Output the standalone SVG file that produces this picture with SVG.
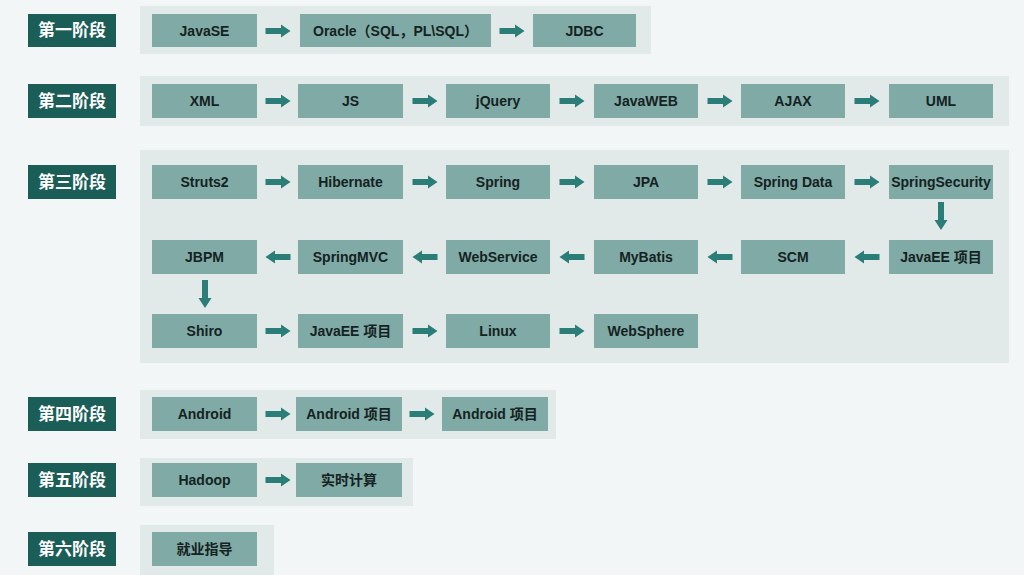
<svg xmlns="http://www.w3.org/2000/svg" xmlns:xlink="http://www.w3.org/1999/xlink" width="1024" height="575" viewBox="0 0 1024 575">
<style>
.bg{fill:#f3f6f6}
.panel{fill:#e2eae9}
.stage rect{fill:#1b5d57}
.stage text{fill:#ffffff;font-family:"Liberation Sans","Noto Sans CJK SC",sans-serif;font-weight:bold;font-size:17px;text-anchor:middle;dominant-baseline:central}
.node rect{fill:#80aaa6}
.node text{fill:#142221;font-family:"Liberation Sans","Noto Sans CJK SC",sans-serif;font-weight:bold;font-size:14px;text-anchor:middle;dominant-baseline:central}
.arr{fill:#2b7d77}
</style>
<defs>
<path id="ar" d="M-12.5,-3 H3 V-6.5 L12.5,0 L3,6.5 V3 H-12.5 Z"/>
<path id="ard" d="M-14,-3 H4 V-6.5 L14,0 L4,6.5 V3 H-14 Z"/>
</defs>
<rect class="bg" x="0" y="0" width="1024" height="575"/>
<g id="panels">
<rect class="panel" x="140" y="6" width="511" height="48"/>
<rect class="panel" x="140" y="76" width="869" height="50"/>
<rect class="panel" x="140" y="150" width="869" height="213"/>
<rect class="panel" x="140" y="390" width="416" height="49"/>
<rect class="panel" x="140" y="458" width="273" height="48"/>
<rect class="panel" x="140" y="525" width="134" height="50"/>
</g>
<g id="stage1" class="stage"><rect x="28" y="14" width="88" height="33"/><text x="72" y="30.5">第一阶段</text></g>
<g id="stage2" class="stage"><rect x="28" y="84" width="88" height="34"/><text x="72" y="101">第二阶段</text></g>
<g id="stage3" class="stage"><rect x="28" y="165" width="88" height="34"/><text x="72" y="182">第三阶段</text></g>
<g id="stage4" class="stage"><rect x="28" y="397" width="88" height="34"/><text x="72" y="414">第四阶段</text></g>
<g id="stage5" class="stage"><rect x="28" y="463" width="88" height="34"/><text x="72" y="480">第五阶段</text></g>
<g id="stage6" class="stage"><rect x="28" y="532" width="88" height="34"/><text x="72" y="549">第六阶段</text></g>

<g id="n-javase" class="node"><rect x="152" y="14" width="105" height="33"/><text x="204.5" y="30.5">JavaSE</text></g>
<g id="n-oracle" class="node"><rect x="300" y="14" width="191" height="33"/><text x="395.5" y="30.5">Oracle（SQL，PL\SQL）</text></g>
<g id="n-jdbc" class="node"><rect x="533" y="14" width="103" height="33"/><text x="584.5" y="30.5">JDBC</text></g>

<g id="n-xml" class="node"><rect x="152" y="84" width="105" height="34"/><text x="204.5" y="101">XML</text></g>
<g id="n-js" class="node"><rect x="298" y="84" width="105" height="34"/><text x="350.5" y="101">JS</text></g>
<g id="n-jquery" class="node"><rect x="446" y="84" width="104" height="34"/><text x="498" y="101">jQuery</text></g>
<g id="n-javaweb" class="node"><rect x="594" y="84" width="104" height="34"/><text x="646" y="101">JavaWEB</text></g>
<g id="n-ajax" class="node"><rect x="741" y="84" width="104" height="34"/><text x="793" y="101">AJAX</text></g>
<g id="n-uml" class="node"><rect x="889" y="84" width="104" height="34"/><text x="941" y="101">UML</text></g>

<g id="n-struts2" class="node"><rect x="152" y="165" width="105" height="34"/><text x="204.5" y="182">Struts2</text></g>
<g id="n-hibernate" class="node"><rect x="298" y="165" width="105" height="34"/><text x="350.5" y="182">Hibernate</text></g>
<g id="n-spring" class="node"><rect x="446" y="165" width="104" height="34"/><text x="498" y="182">Spring</text></g>
<g id="n-jpa" class="node"><rect x="594" y="165" width="104" height="34"/><text x="646" y="182">JPA</text></g>
<g id="n-springdata" class="node"><rect x="741" y="165" width="104" height="34"/><text x="793" y="182">Spring Data</text></g>
<g id="n-springsecurity" class="node"><rect x="889" y="165" width="104" height="34"/><text x="941" y="182">SpringSecurity</text></g>

<g id="n-jbpm" class="node"><rect x="152" y="240" width="105" height="34"/><text x="204.5" y="257">JBPM</text></g>
<g id="n-springmvc" class="node"><rect x="298" y="240" width="105" height="34"/><text x="350.5" y="257">SpringMVC</text></g>
<g id="n-webservice" class="node"><rect x="446" y="240" width="104" height="34"/><text x="498" y="257">WebService</text></g>
<g id="n-mybatis" class="node"><rect x="594" y="240" width="104" height="34"/><text x="646" y="257">MyBatis</text></g>
<g id="n-scm" class="node"><rect x="741" y="240" width="104" height="34"/><text x="793" y="257">SCM</text></g>
<g id="n-javaee1" class="node"><rect x="889" y="240" width="104" height="34"/><text x="941" y="257">JavaEE 项目</text></g>

<g id="n-shiro" class="node"><rect x="152" y="314" width="105" height="34"/><text x="204.5" y="331">Shiro</text></g>
<g id="n-javaee2" class="node"><rect x="298" y="314" width="105" height="34"/><text x="350.5" y="331">JavaEE 项目</text></g>
<g id="n-linux" class="node"><rect x="446" y="314" width="104" height="34"/><text x="498" y="331">Linux</text></g>
<g id="n-websphere" class="node"><rect x="594" y="314" width="104" height="34"/><text x="646" y="331">WebSphere</text></g>

<g id="n-android" class="node"><rect x="152" y="397" width="105" height="34"/><text x="204.5" y="414">Android</text></g>
<g id="n-android2" class="node"><rect x="296" y="397" width="106" height="34"/><text x="349" y="414">Android 项目</text></g>
<g id="n-android3" class="node"><rect x="442" y="397" width="106" height="34"/><text x="495" y="414">Android 项目</text></g>

<g id="n-hadoop" class="node"><rect x="152" y="463" width="105" height="34"/><text x="204.5" y="480">Hadoop</text></g>
<g id="n-realtime" class="node"><rect x="296" y="463" width="106" height="34"/><text x="349" y="480">实时计算</text></g>

<g id="n-job" class="node"><rect x="152" y="532" width="105" height="34"/><text x="204.5" y="549">就业指导</text></g>

<g id="connectors" class="arr">
<use xlink:href="#ar" transform="translate(278,31)"/>
<use xlink:href="#ar" transform="translate(512,31)"/>

<use xlink:href="#ar" transform="translate(278,101)"/>
<use xlink:href="#ar" transform="translate(425,101)"/>
<use xlink:href="#ar" transform="translate(572,101)"/>
<use xlink:href="#ar" transform="translate(720,101)"/>
<use xlink:href="#ar" transform="translate(867,101)"/>

<use xlink:href="#ar" transform="translate(278,182)"/>
<use xlink:href="#ar" transform="translate(425,182)"/>
<use xlink:href="#ar" transform="translate(572,182)"/>
<use xlink:href="#ar" transform="translate(720,182)"/>
<use xlink:href="#ar" transform="translate(867,182)"/>
<use xlink:href="#ard" transform="translate(941,216) rotate(90)"/>

<use xlink:href="#ar" transform="translate(867,257) rotate(180)"/>
<use xlink:href="#ar" transform="translate(720,257) rotate(180)"/>
<use xlink:href="#ar" transform="translate(572,257) rotate(180)"/>
<use xlink:href="#ar" transform="translate(425,257) rotate(180)"/>
<use xlink:href="#ar" transform="translate(278,257) rotate(180)"/>
<use xlink:href="#ard" transform="translate(205,294) rotate(90)"/>

<use xlink:href="#ar" transform="translate(278,331)"/>
<use xlink:href="#ar" transform="translate(425,331)"/>
<use xlink:href="#ar" transform="translate(572,331)"/>

<use xlink:href="#ar" transform="translate(278,414)"/>
<use xlink:href="#ar" transform="translate(422,414)"/>

<use xlink:href="#ar" transform="translate(278,480)"/>
</g>
</svg>
